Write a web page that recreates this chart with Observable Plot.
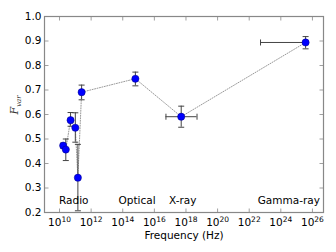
<!DOCTYPE html>
<html>
<head>
<meta charset="utf-8">
<script src="https://cdn.jsdelivr.net/npm/d3@7"></script>
<script src="https://cdn.jsdelivr.net/npm/@observablehq/plot@0.6"></script>
<style>
  html, body { margin: 0; padding: 0; background: #fff; }
  svg { font-family: "DejaVu Sans", sans-serif; }
</style>
</head>
<body>
<div id="chart"></div>
<script>
// ---- data ----
const freq   = [1.7e10, 2.5e10, 5.0e10, 1.0e11, 1.45e11, 2.5e11, 6.3e14, 5.0e17, 3.7e25];
const fvar   = [0.473, 0.457, 0.577, 0.546, 0.342, 0.691, 0.746, 0.591, 0.894];
const errLo  = [0.463, 0.412, 0.552, 0.487, 0.207, 0.660, 0.717, 0.548, 0.868];
const errHi  = [0.483, 0.500, 0.608, 0.607, 0.478, 0.720, 0.773, 0.634, 0.918];
const freqLo = [null, null, null, null, null, null, null, 5.4e16, 5.2e22];
const freqHi = [null, null, null, null, null, null, null, 5.0e18, 3.7e25];
const bands      = ["Radio", "Optical", "X-ray", "Gamma-ray"];
const bandFreq   = [8e10, 8e14, 6.3e17, 3.2e24];
const bandY      = [0.25, 0.25, 0.25, 0.25];
const xTicks = [1e10, 1e12, 1e14, 1e16, 1e18, 1e20, 1e22, 1e24, 1e26];
const yTicks = [0.2, 0.3, 0.4, 0.5, 0.6, 0.7, 0.8, 0.9, 1.0];

const pts = freq.map((f, i) => ({f, v: fvar[i], lo: errLo[i], hi: errHi[i], flo: freqLo[i], fhi: freqHi[i]}));
const xpts = pts.filter(d => d.flo != null);
const labels = bands.map((b, i) => ({b, f: bandFreq[i], y: bandY[i]}));

const fmtPow = d => "10^" + Math.round(Math.log10(d));

// custom symbols
const capH = {draw(ctx){ ctx.moveTo(-3, 0); ctx.lineTo(3, 0); }};
const capV = {draw(ctx){ ctx.moveTo(0, -3); ctx.lineTo(0, 3); }};
const tickUp = {draw(ctx){ ctx.moveTo(0, 0); ctx.lineTo(0, -4); }};
const tickDown = {draw(ctx){ ctx.moveTo(0, 0); ctx.lineTo(0, 4); }};
const tickRight = {draw(ctx){ ctx.moveTo(0, 0); ctx.lineTo(4, 0); }};
const tickLeft = {draw(ctx){ ctx.moveTo(0, 0); ctx.lineTo(-4, 0); }};

const xDomain = [Math.pow(10, 9.05), Math.pow(10, 26.7)];
const yDomain = [0.2, 1.0];
const tc = "#888";

const chart = Plot.plot({
  width: 336,
  height: 252,
  marginLeft: 44,
  marginRight: 13,
  marginTop: 16,
  marginBottom: 40,
  style: {fontFamily: "DejaVu Sans, sans-serif", fontSize: "10px", color: "#000", background: "#fff"},
  x: {type: "log", domain: xDomain},
  y: {domain: yDomain},
  marks: [
    Plot.axisX({ticks: xTicks, tickFormat: fmtPow, tickSize: 0, tickPadding: 6, label: null, fontSize: 10.5}),
    Plot.axisY({ticks: yTicks, tickFormat: d3.format(".1f"), tickSize: 0, tickPadding: 3, label: null, fontSize: 10.5}),
    // inward ticks
    Plot.dot(xTicks, {x: d => d, y: () => yDomain[0], symbol: tickUp, stroke: tc, strokeWidth: 0.8, r: 4}),
    Plot.dot(xTicks, {x: d => d, y: () => yDomain[1], symbol: tickDown, stroke: tc, strokeWidth: 0.8, r: 4}),
    Plot.dot(yTicks, {x: () => xDomain[0], y: d => d, symbol: tickRight, stroke: tc, strokeWidth: 0.8, r: 4}),
    Plot.dot(yTicks, {x: () => xDomain[1], y: d => d, symbol: tickLeft, stroke: tc, strokeWidth: 0.8, r: 4}),
    Plot.frame({stroke: tc, strokeWidth: 1.2}),
    // connecting dotted line
    Plot.line(pts, {x: "f", y: "v", stroke: "#999", strokeWidth: 1, strokeDasharray: "1,1.5"}),
    // y error bars
    Plot.ruleX(pts, {x: "f", y1: "lo", y2: "hi", stroke: "#444", strokeWidth: 1}),
    Plot.dot(pts, {x: "f", y: "lo", symbol: capH, stroke: "#444", strokeWidth: 1, r: 3}),
    Plot.dot(pts, {x: "f", y: "hi", symbol: capH, stroke: "#444", strokeWidth: 1, r: 3}),
    // x error bars
    Plot.ruleY(xpts, {y: "v", x1: "flo", x2: "fhi", stroke: "#444", strokeWidth: 1}),
    Plot.dot(xpts, {x: "flo", y: "v", symbol: capV, stroke: "#444", strokeWidth: 1, r: 3}),
    Plot.dot(xpts, {x: "fhi", y: "v", symbol: capV, stroke: "#444", strokeWidth: 1, r: 3}),
    // points
    Plot.dot(pts, {x: "f", y: "v", r: 3.6, fill: "#0000ff", stroke: "#000080", strokeWidth: 0.5}),
    // band labels
    Plot.text(labels, {x: "f", y: "y", text: "b", fontSize: 10.5, fill: "#000"}),
    // axis labels
    Plot.text(["Frequency (Hz)"], {frameAnchor: "bottom", dy: 26, text: d => d, fontSize: 10.5, fill: "#000"}),
    Plot.text(["Fvar"], {frameAnchor: "left", dx: -30, rotate: -90, text: d => d, fontSize: 11, fill: "#333"})
  ]
});

const ns = "http://www.w3.org/2000/svg";
chart.querySelectorAll("text").forEach(t => {
  const s = t.textContent;
  if (s === "Fvar") {
    // italic F with subscript "var"
    t.textContent = "";
    const a = document.createElementNS(ns, "tspan");
    a.textContent = "F";
    a.setAttribute("font-style", "italic");
    a.setAttribute("font-family", "DejaVu Serif, serif");
    const b = document.createElementNS(ns, "tspan");
    b.textContent = "var";
    b.setAttribute("font-style", "italic");
    b.setAttribute("font-family", "DejaVu Serif, serif");
    b.setAttribute("font-size", "7");
    b.setAttribute("dy", "3");
    t.appendChild(a);
    t.appendChild(b);
  } else if (/^10\^\d+$/.test(s)) {
    // power-of-ten label with superscript exponent
    const e = s.split("^")[1];
    t.textContent = "";
    const a = document.createElementNS(ns, "tspan");
    a.textContent = "10";
    const b = document.createElementNS(ns, "tspan");
    b.textContent = e;
    b.setAttribute("font-size", "7.5");
    b.setAttribute("dy", "-4");
    t.appendChild(a);
    t.appendChild(b);
  }
});

document.getElementById("chart").appendChild(chart);
</script>
</body>
</html>
